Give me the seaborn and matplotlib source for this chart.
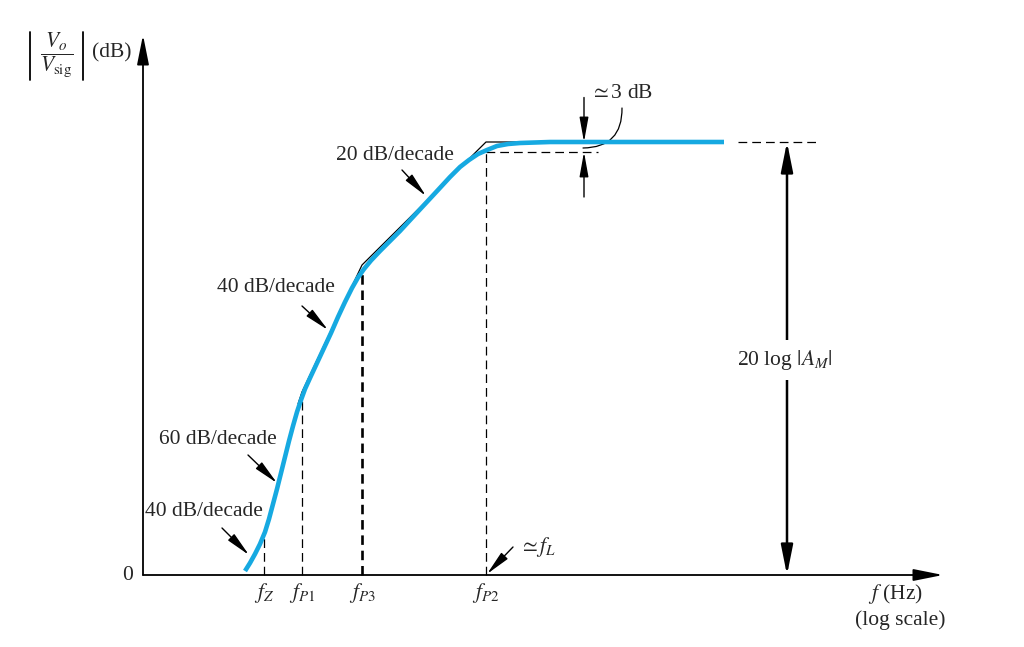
import matplotlib
matplotlib.use("Agg")
import matplotlib.pyplot as plt
import seaborn as sns
import pandas as pd

# ---------------- data (x in decades from the origin, y in dB) ----------------
curve_x = [1.02, 1.07, 1.12, 1.17, 1.22, 1.26, 1.30, 1.34, 1.38, 1.42, 1.46, 1.50,
           1.54, 1.58, 1.62, 1.67, 1.74, 1.81, 1.88, 1.95, 2.02, 2.09, 2.15, 2.21,
           2.28, 2.37, 2.47, 2.57, 2.69, 2.82, 2.95, 3.07, 3.17, 3.26, 3.35, 3.44,
           3.54, 3.65, 3.77, 3.92, 4.07, 5.81]
curve_y = [0.8, 2.4, 4.2, 6.2, 8.6, 11.2, 14.2, 17.2, 20.4, 23.6, 26.8, 29.8,
           32.6, 35.0, 37.2, 39.4, 42.4, 45.4, 48.4, 51.6, 54.6, 57.4, 59.5, 61.2,
           62.9, 64.8, 66.8, 68.8, 71.4, 74.2, 77.0, 79.6, 81.6, 83.0, 84.2, 85.0,
           85.8, 86.2, 86.4, 86.5, 86.6, 86.6]

asym_x = [1.55, 1.59, 2.19, 3.43, 4.17]
asym_y = [34.2, 36.6, 62.0, 86.6, 86.6]

freq_labels = [r"$f_Z$", r"$f_{P1}$", r"$f_{P3}$", r"$f_{P2}$"]
freq_pos = [1.21, 1.59, 2.19, 3.43]
freq_curve_level = [8.0, 35.6, 60.8, 84.6]

midband_db = 86.6          # 20 log|A_M|
minus3_db = 84.6           # ~3 dB below

slope_texts = ["20 dB/decade", "40 dB/decade", "60 dB/decade", "40 dB/decade"]
slope_text_xy = [(2.52, 84.0), (1.33, 57.4), (0.75, 27.0), (0.61, 12.6)]
slope_arrow_from = [(2.59, 81.0), (1.59, 53.8), (1.05, 24.0), (0.79, 9.4)]
slope_arrow_to = [(2.83, 75.8), (1.85, 49.0), (1.34, 18.4), (1.06, 4.0)]

# ---------------- style ----------------
sns.set_theme(style="white")
plt.rcParams["font.family"] = ["Liberation Serif", "DejaVu Serif"]
plt.rcParams["mathtext.fontset"] = "stix"

BLUE = "#16A9E1"
FS = 15.5

fig = plt.figure(figsize=(10.24, 6.47), dpi=100)
ax = fig.add_axes([0, 0, 1, 1])
ax.set_xlim(-1.43, 8.81)
ax.set_ylim(-14.4, 115)
ax.axis("off")

# axes with arrow heads
axis_arrow = dict(arrowstyle="-|>,head_length=1.0,head_width=0.2", color="black",
                  lw=1.3, mutation_scale=18, shrinkA=0, shrinkB=0)
ax.annotate("", xy=(8.0, 0), xytext=(0, 0), arrowprops=axis_arrow)
ax.annotate("", xy=(0, 108), xytext=(0, 0), arrowprops=axis_arrow)

# asymptotes (thin black) and actual response (blue)
df_asym = pd.DataFrame({"x": asym_x, "y": asym_y})
df_curve = pd.DataFrame({"x": curve_x, "y": curve_y})
sns.lineplot(data=df_asym, x="x", y="y", ax=ax, color="black", lw=0.9,
             sort=False, estimator=None, zorder=3)
sns.lineplot(data=df_curve, x="x", y="y", ax=ax, color=BLUE, lw=3.3,
             sort=False, estimator=None, zorder=4)
for line in ax.get_lines():
    line.set_solid_joinstyle("round")
    line.set_solid_capstyle("butt")
ax.set_xlabel("")
ax.set_ylabel("")

# dashed verticals at the break frequencies
for i, (fx, lvl) in enumerate(zip(freq_pos, freq_curve_level)):
    if i == 2:
        ax.plot([fx, fx], [0, lvl], color="black", lw=1.9, ls=(0, (3.6, 2.2)), zorder=2)
    else:
        ax.plot([fx, fx], [0, lvl], color="black", lw=0.9, ls=(0, (7, 4)), zorder=2)
    ax.text(fx, -3.6, freq_labels[i], fontsize=FS, ha="center", va="center")

# -3 dB dashed line and mid-band extension
ax.plot([freq_pos[3], 4.55], [minus3_db, minus3_db], color="black", lw=0.9,
        ls=(0, (7, 4)), zorder=2)
ax.plot([5.95, 6.77], [midband_db, midband_db], color="black", lw=0.9,
        ls=(0, (7, 4)), zorder=2)

# 20 log|A_M| double arrow
ax.annotate("", xy=(6.44, midband_db), xytext=(6.44, 0),
            arrowprops=dict(arrowstyle="<|-|>,head_length=1.0,head_width=0.2",
                            color="black", lw=1.8, mutation_scale=18,
                            shrinkA=0, shrinkB=0))
ax.text(6.42, 43.0, r"20 log $|A_M|$", fontsize=FS, ha="center", va="center",
        bbox=dict(facecolor="white", edgecolor="none", pad=6), zorder=6)

# ~3 dB marker arrows
small_arrow = dict(arrowstyle="-|>,head_length=1.0,head_width=0.18", color="black",
                   lw=1.0, mutation_scale=15, shrinkA=0, shrinkB=0)
ax.annotate("", xy=(4.41, midband_db), xytext=(4.41, 95.5), arrowprops=small_arrow)
ax.annotate("", xy=(4.41, minus3_db), xytext=(4.41, 75.6), arrowprops=small_arrow)
ax.text(4.79, 96.4, r"$\simeq$3 dB", fontsize=FS, ha="center", va="center")
ax.annotate("", xy=(4.40, 85.4), xytext=(4.79, 93.4),
            arrowprops=dict(arrowstyle="-", color="black", lw=0.9,
                            connectionstyle="arc3,rad=-0.5", shrinkA=0, shrinkB=0))

# slope labels with arrows
for t, txy, a0, a1 in zip(slope_texts, slope_text_xy, slope_arrow_from, slope_arrow_to):
    ax.text(txy[0], txy[1], t, fontsize=FS, ha="center", va="center")
    ax.annotate("", xy=a1, xytext=a0, arrowprops=small_arrow)

# ~f_L
ax.text(3.95, 5.6, r"$\simeq f_L$", fontsize=FS, ha="center", va="center")
ax.annotate("", xy=(3.44, 0.2), xytext=(3.70, 5.6), arrowprops=small_arrow)

# axis texts
ax.text(-0.15, 0, "0", fontsize=FS, ha="center", va="center")
ax.text(7.52, -3.8, r"$f$ (Hz)", fontsize=FS, ha="center", va="center")
ax.text(7.57, -9.0, "(log scale)", fontsize=FS, ha="center", va="center")

# y-axis label: |Vo / Vsig| (dB) with thin magnitude bars
ax.text(-0.865, 104.0, r"$\dfrac{V_o}{V_{\rm sig}}$", fontsize=FS,
        ha="center", va="center")
for bx in (-1.13, -0.60):
    ax.plot([bx, bx], [99.0, 108.6], color="black", lw=1.3)
ax.text(-0.51, 104.4, "(dB)", fontsize=FS, ha="left", va="center")

fig.savefig("out.png", dpi=100)
